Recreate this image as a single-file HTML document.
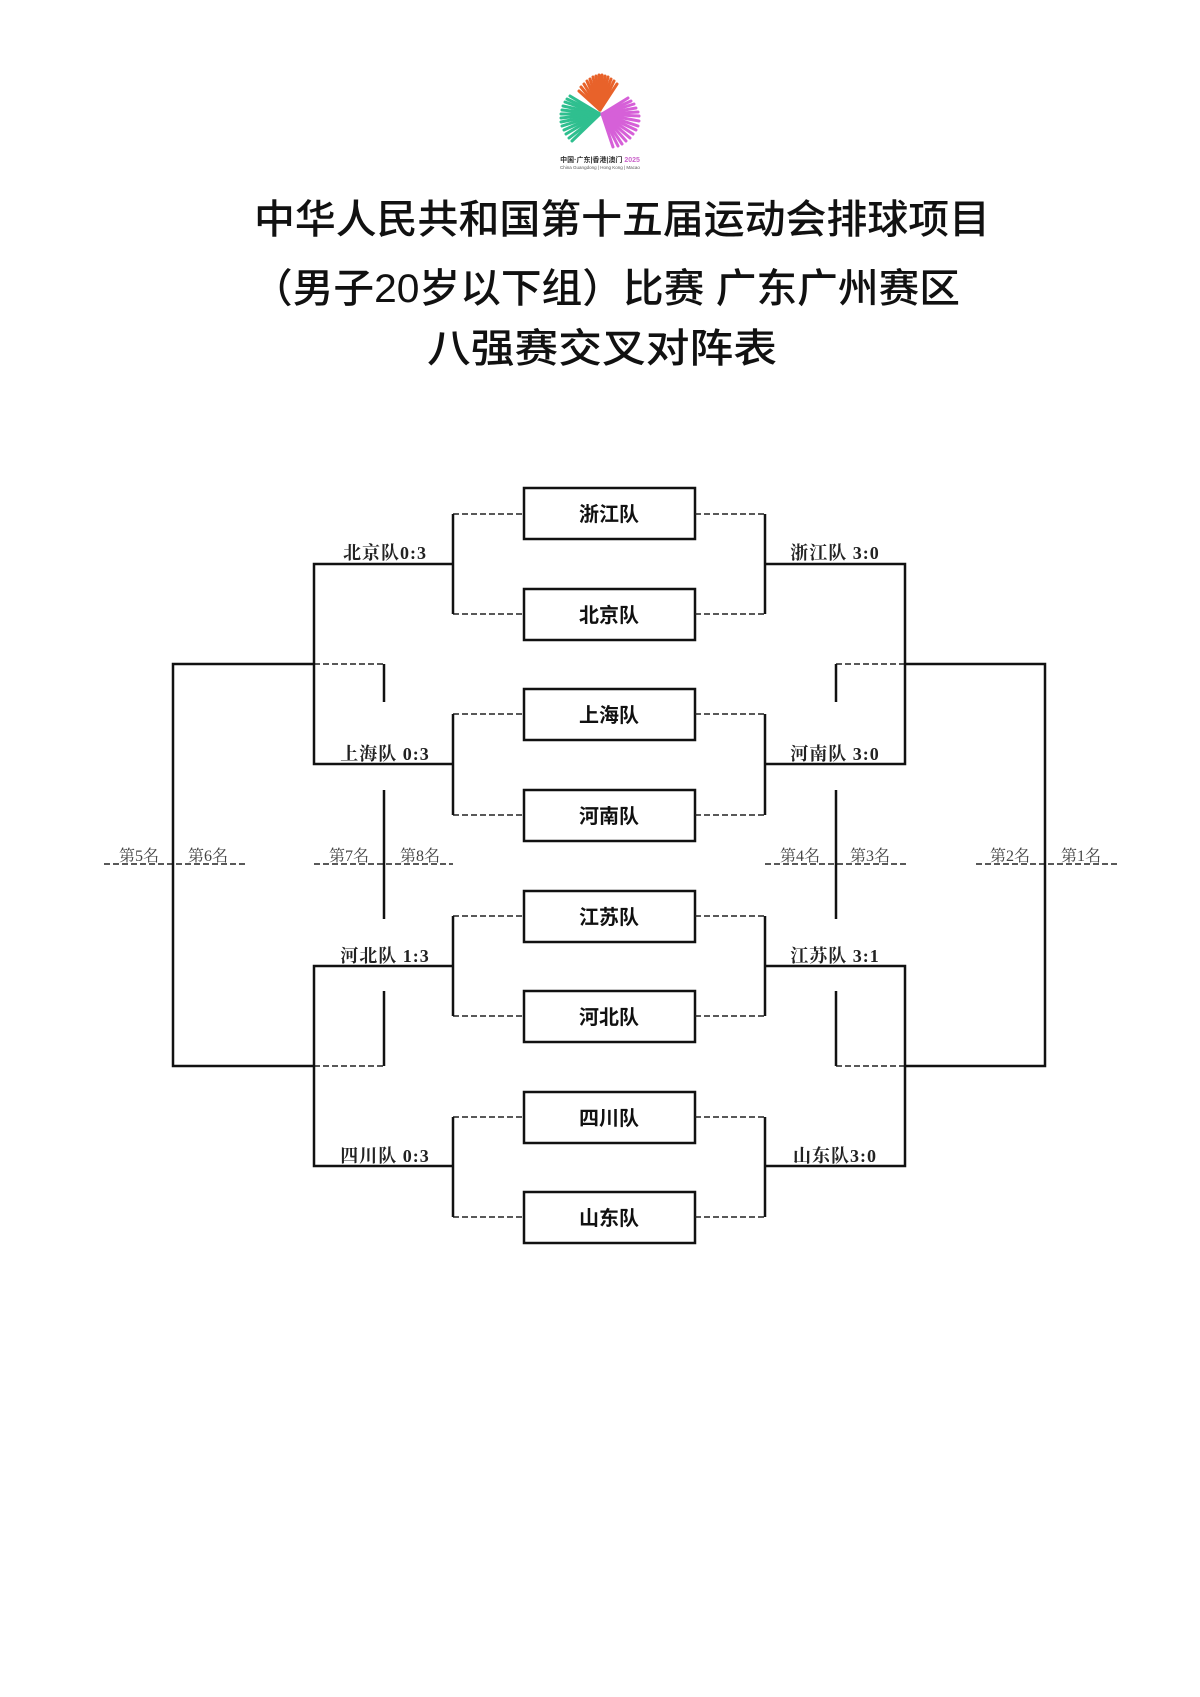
<!DOCTYPE html>
<html><head><meta charset="utf-8"><style>
html,body{margin:0;padding:0;background:#fff}
svg{display:block}
.t{font-family:"Liberation Sans","Noto Sans CJK SC",sans-serif;fill:#111;font-weight:500}
.s{font-family:"Liberation Serif","Noto Serif CJK SC",serif;fill:#222;font-size:18px;letter-spacing:1px;font-weight:bold}
.r{font-family:"Liberation Serif","Noto Serif CJK SC",serif;fill:#444;font-size:16px}
.b{font-family:"Liberation Sans","Noto Sans CJK SC",sans-serif;font-weight:bold;font-size:20px;fill:#111}
</style></head><body>
<svg width="1200" height="1697" viewBox="0 0 1200 1697" xmlns="http://www.w3.org/2000/svg">
<!-- logo -->
<g stroke-width="3" stroke-linecap="round">
<g stroke="#e8622a">
<line x1="600" y1="110" x2="584" y2="84"/><line x1="600" y1="110" x2="587" y2="81"/><line x1="600" y1="110" x2="590" y2="79"/><line x1="600" y1="110" x2="593" y2="77"/><line x1="600" y1="110" x2="596" y2="76"/><line x1="600" y1="110" x2="599" y2="75"/><line x1="600" y1="110" x2="602" y2="75"/><line x1="600" y1="110" x2="605" y2="76"/><line x1="600" y1="110" x2="608" y2="77"/><line x1="600" y1="110" x2="611" y2="79"/><line x1="600" y1="110" x2="614" y2="81"/><line x1="600" y1="110" x2="617" y2="84"/><line x1="600" y1="110" x2="579" y2="91"/><line x1="600" y1="110" x2="581" y2="87"/>
</g>
<g stroke="#2fbf8f">
<line x1="600" y1="114" x2="565" y2="102"/><line x1="600" y1="114" x2="563" y2="106"/><line x1="600" y1="114" x2="562" y2="110"/><line x1="600" y1="114" x2="561" y2="114"/><line x1="600" y1="114" x2="561" y2="118"/><line x1="600" y1="114" x2="561" y2="122"/><line x1="600" y1="114" x2="562" y2="126"/><line x1="600" y1="114" x2="564" y2="130"/><line x1="600" y1="114" x2="566" y2="134"/><line x1="600" y1="114" x2="569" y2="138"/><line x1="600" y1="114" x2="572" y2="141"/><line x1="600" y1="114" x2="570" y2="96"/><line x1="600" y1="114" x2="567" y2="99"/>
</g>
<g stroke="#d660d8">
<line x1="602" y1="114" x2="634" y2="104"/><line x1="602" y1="114" x2="636" y2="108"/><line x1="602" y1="114" x2="638" y2="112"/><line x1="602" y1="114" x2="639" y2="116"/><line x1="602" y1="114" x2="639" y2="121"/><line x1="602" y1="114" x2="638" y2="126"/><line x1="602" y1="114" x2="636" y2="130"/><line x1="602" y1="114" x2="633" y2="134"/><line x1="602" y1="114" x2="630" y2="138"/><line x1="602" y1="114" x2="626" y2="141"/><line x1="602" y1="114" x2="622" y2="144"/><line x1="602" y1="114" x2="618" y2="146"/><line x1="602" y1="114" x2="613" y2="147"/><line x1="602" y1="114" x2="628" y2="98"/><line x1="602" y1="114" x2="631" y2="101"/>
</g>
</g>
<text x="600" y="162" text-anchor="middle" font-family="Liberation Sans,Noto Sans CJK SC,sans-serif" font-size="7" font-weight="bold" fill="#333">中国·广东|香港|澳门 <tspan fill="#c6c">2025</tspan></text>
<text x="600" y="169" text-anchor="middle" font-family="Liberation Sans,sans-serif" font-size="4.5" fill="#555">China Guangdong | Hong Kong | Macao</text>

<!-- titles -->
<text class="t" x="622" y="233" text-anchor="middle" font-size="40" textLength="736" lengthAdjust="spacingAndGlyphs">中华人民共和国第十五届运动会排球项目</text>
<text class="t" x="606" y="302" text-anchor="middle" font-size="40" textLength="708" lengthAdjust="spacingAndGlyphs">（男子20岁以下组）比赛  广东广州赛区</text>
<text class="t" x="602" y="362" text-anchor="middle" font-size="40" textLength="350" lengthAdjust="spacingAndGlyphs">八强赛交叉对阵表</text>

<!-- boxes -->
<g fill="#fff" stroke="#111" stroke-width="2.5">
<rect x="524" y="488" width="171" height="51"/>
<rect x="524" y="589" width="171" height="51"/>
<rect x="524" y="689" width="171" height="51"/>
<rect x="524" y="790" width="171" height="51"/>
<rect x="524" y="891" width="171" height="51"/>
<rect x="524" y="991" width="171" height="51"/>
<rect x="524" y="1092" width="171" height="51"/>
<rect x="524" y="1192" width="171" height="51"/>
</g>
<g class="b" text-anchor="middle">
<text x="609" y="521">浙江队</text>
<text x="609" y="622">北京队</text>
<text x="609" y="722">上海队</text>
<text x="609" y="823">河南队</text>
<text x="609" y="924">江苏队</text>
<text x="609" y="1024">河北队</text>
<text x="609" y="1125">四川队</text>
<text x="609" y="1225">山东队</text>
</g>

<!-- dashed -->
<g stroke="#222" stroke-width="1.5" stroke-dasharray="6,3" fill="none">
<path d="M453 514H524M453 614H524M453 714H524M453 815H524M453 916H524M453 1016H524M453 1117H524M453 1217H524"/>
<path d="M695 514H765M695 614H765M695 714H765M695 815H765M695 916H765M695 1016H765M695 1117H765M695 1217H765"/>
<path d="M314 664H384M314 1066H384M836 664H905M836 1066H905"/>
<path d="M104 864H245M314 864H453M765 864H906M976 864H1117"/>
</g>
<!-- solid -->
<g stroke="#111" stroke-width="2.5" fill="none">
<path d="M453 514V614M453 714V815M453 916V1016M453 1117V1217"/>
<path d="M765 514V614M765 714V815M765 916V1016M765 1117V1217"/>
<path d="M453 564H314V764H453M453 966H314V1166H453"/>
<path d="M765 564H905V764H765M765 966H905V1166H765"/>
<path d="M314 664H173V1066H314"/>
<path d="M905 664H1045V1066H905"/>
<path d="M384 664V702M384 790V919M384 991V1066"/>
<path d="M836 664V702M836 790V919M836 991V1066"/>
</g>

<!-- score labels -->
<g class="s" text-anchor="middle">
<text x="385" y="559">北京队0:3</text>
<text x="385" y="760">上海队 0:3</text>
<text x="385" y="962">河北队 1:3</text>
<text x="385" y="1162">四川队 0:3</text>
<text x="835" y="559">浙江队 3:0</text>
<text x="835" y="760">河南队 3:0</text>
<text x="835" y="962">江苏队 3:1</text>
<text x="835" y="1162">山东队3:0</text>
</g>
<g class="r" text-anchor="middle">
<text x="139" y="861">第5名</text>
<text x="208" y="861">第6名</text>
<text x="349" y="861">第7名</text>
<text x="420" y="861">第8名</text>
<text x="800" y="861">第4名</text>
<text x="870" y="861">第3名</text>
<text x="1010" y="861">第2名</text>
<text x="1081" y="861">第1名</text>
</g>
</svg>
</body></html>
